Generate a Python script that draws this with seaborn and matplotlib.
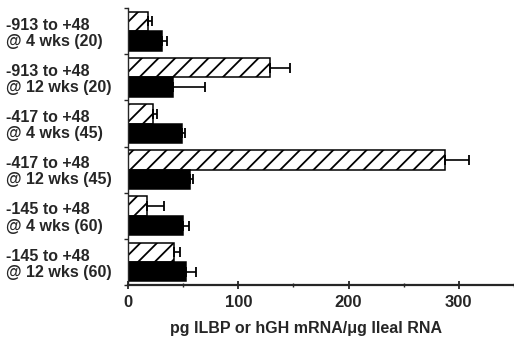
import pandas as pd
import matplotlib
matplotlib.use('Agg')
import matplotlib.pyplot as plt
import seaborn as sns
from matplotlib.ticker import FixedLocator, MultipleLocator

sns.set_style('ticks')
plt.rcParams['font.family'] = ['Liberation Sans', 'DejaVu Sans']
plt.rcParams['font.weight'] = 'bold'
plt.rcParams['hatch.linewidth'] = 1.3

# 데이터
constructs = ['-913 to +48\n@ 4 wks (20)', '-913 to +48\n@ 12 wks (20)',
              '-417 to +48\n@ 4 wks (45)', '-417 to +48\n@ 12 wks (45)',
              '-145 to +48\n@ 4 wks (60)', '-145 to +48\n@ 12 wks (60)']
ilbp = [18, 129, 23, 287, 17, 42]
ilbp_err = [3.5, 18, 3, 22, 16, 5]
hgh = [31, 41, 49, 56, 50, 53]
hgh_err = [4.5, 29, 3, 3, 5.5, 9]

df = pd.DataFrame({
    'construct': constructs * 2,
    'value': ilbp + hgh,
    'series': ['ILBP'] * 6 + ['hGH'] * 6,
})

fig = plt.figure(figsize=(5.14, 3.37), dpi=100)
ax = fig.add_axes([0.249, 0.154, 0.751, 0.822])

sns.barplot(data=df, x='value', y='construct', hue='series', orient='h',
            palette={'ILBP': 'white', 'hGH': 'black'}, width=0.84,
            errorbar=None, edgecolor='black', linewidth=1.1, legend=False, ax=ax)

for patch in ax.containers[0]:
    patch.set_hatch('//')

# 오차 막대
for cont, err in zip(ax.containers, [ilbp_err, hgh_err]):
    for patch, e in zip(cont, err):
        y = patch.get_y() + patch.get_height() / 2
        ax.errorbar(patch.get_width(), y, xerr=[[0], [e]], fmt='none',
                    ecolor='black', elinewidth=1.2, capsize=3.5, capthick=1.3)

ax.set_xlim(0, 350)
ax.set_ylim(5.5, -0.5)
ax.xaxis.set_major_locator(FixedLocator([0, 100, 200, 300]))
ax.xaxis.set_minor_locator(MultipleLocator(50))
ax.yaxis.set_minor_locator(FixedLocator([i - 0.5 for i in range(7)]))

ax.tick_params(axis='x', which='major', direction='inout', length=6, width=1.3,
               labelsize=12, pad=4)
ax.tick_params(axis='x', which='minor', direction='inout', length=3, width=1)
ax.tick_params(axis='y', which='major', length=0, labelsize=11.5, pad=88)
ax.tick_params(axis='y', which='minor', direction='out', length=3, width=1)
for lab in ax.get_yticklabels():
    lab.set_horizontalalignment('left')
    lab.set_multialignment('left')
    lab.set_linespacing(1.1)
    lab.set_fontweight('bold')
for lab in ax.get_xticklabels():
    lab.set_fontweight('bold')

sns.despine(ax=ax)
ax.spines['left'].set_linewidth(1.0)
ax.spines['bottom'].set_linewidth(1.6)

ax.set_ylabel('')
ax.set_xlabel('pg ILBP or hGH mRNA/\u03bcg Ileal RNA', fontsize=11.5, fontweight='bold')
ax.xaxis.set_label_coords(0.46, -0.13)

fig.savefig('out.png', dpi=100)
